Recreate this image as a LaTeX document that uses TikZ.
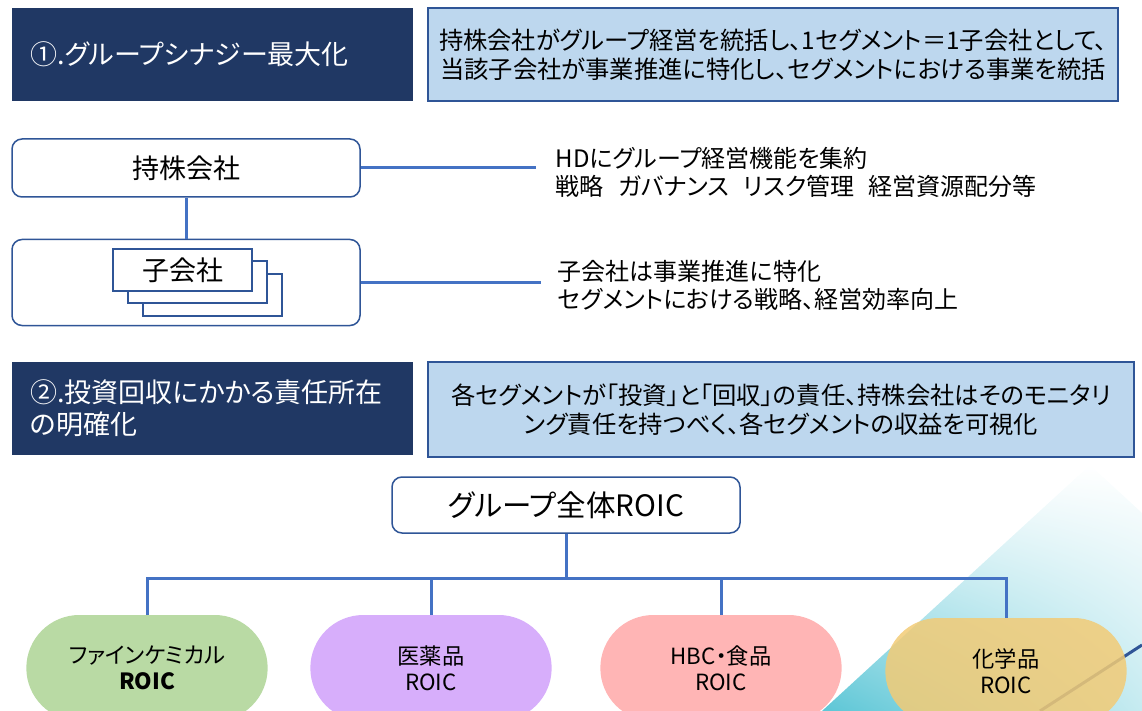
\documentclass[tikz,border=0pt]{standalone}
\usepackage{fontspec}
\setmainfont{Noto Sans CJK JP}[RawFeature={+palt}]
\usetikzlibrary{positioning,shapes.misc,shadings}
\definecolor{navy}{HTML}{203864}
\definecolor{paleblue}{HTML}{BDD7EE}
\definecolor{frameblue}{HTML}{2F5597}
\definecolor{lineblue}{HTML}{4472C4}
\definecolor{finegreen}{HTML}{B9DAA4}
\definecolor{medpurple}{HTML}{D7AEFB}
\definecolor{hbcpink}{HTML}{FFB5B5}
\definecolor{chemyellow}{HTML}{F2CB76}
\definecolor{decocyan}{HTML}{5CC6D6}
\newcommand{\gap}{\hspace{0.6em}}

\begin{document}
\begin{tikzpicture}[x=1pt, y=-1pt, node distance=14pt]
    \tikzstyle{headbox} = [rectangle, fill=navy, text=white, text width=365pt, inner xsep=18pt, minimum height=93pt, align=left, font=\fontsize{27pt}{32pt}\selectfont]
    \tikzstyle{notebox} = [rectangle, draw=frameblue, line width=2pt, fill=paleblue, minimum height=93pt, align=center, font=\fontsize{24.3pt}{28.5pt}\selectfont]
    \tikzstyle{orgbox} = [rectangle, draw=frameblue, line width=1.5pt, fill=white, rounded corners=10pt, minimum width=348pt, font=\fontsize{27pt}{32pt}\selectfont]
    \tikzstyle{stackbox} = [rectangle, draw=frameblue, line width=2pt, fill=white, minimum width=139pt, minimum height=42pt, font=\fontsize{27pt}{32pt}\selectfont]
    \tikzstyle{remark} = [align=left, inner sep=0pt, font=\fontsize{24pt}{28pt}\selectfont]
    \tikzstyle{pill} = [rounded rectangle, minimum width=248pt, minimum height=106pt, align=center, font=\fontsize{22.3pt}{26pt}\selectfont]
    \tikzstyle{line} = [draw, lineblue, line width=3pt]

    \useasboundingbox (0,0) rectangle (1142,711);
    \clip (0,0) rectangle (1142,711);

    % Backdrop
    \shade [upper left=white, upper right=white, lower left=decocyan, lower right=decocyan!35]
        (822,711) -- (1090,465) -- (1142,513) -- (1142,711) -- cycle;
    \draw [frameblue, line width=3pt] (1040,711) -- (1142,645);

    % Group synergy heading
    \node [headbox] (head1) at (212.5,54.5) {①.グループシナジー最大化};

    % Group synergy note
    \node [notebox, minimum width=690pt, right=14pt of head1] (note1) {持株会社がグループ経営を統括し、1セグメント＝1子会社として、\\当該子会社が事業推進に特化し、セグメントにおける事業を統括};

    % Holding company
    \node [orgbox, minimum height=58pt] (hold) at (186,168) {持株会社};

    % Subsidiary frame
    \node [orgbox, minimum height=86pt, below=41pt of hold] (sub) {};

    % Subsidiary stack
    \node [stackbox] (sub3) at (212.5,294.5) {};
    \node [stackbox] (sub2) at (197.5,282) {};
    \node [stackbox] (sub1) at (182.5,270) {子会社};

    % Holding company role
    \node [remark, right=195pt of hold, yshift=-4pt] (holdnote) {HDにグループ経営機能を集約\\戦略\gap ガバナンス\gap リスク管理\gap 経営資源配分等};

    % Subsidiary role
    \node [remark, right=197pt of sub, yshift=-3pt] (subnote) {子会社は事業推進に特化\\セグメントにおける戦略、経営効率向上};

    % Responsibility heading
    \node [headbox] (head2) at (212.5,408.5) {②.投資回収にかかる責任所在\\の明確化};

    % Responsibility note
    \node [notebox, minimum width=706pt, minimum height=95pt, right=14pt of head2, yshift=-1pt] (note2) {各セグメントが「投資」と「回収」の責任、持株会社はそのモニタリ\\ング責任を持つべく、各セグメントの収益を可視化};

    % Group ROIC
    \node [orgbox, minimum height=56pt, font=\fontsize{29.5pt}{34pt}\selectfont] (roic) at (566,505) {グループ全体ROIC};
    \coordinate (bus) at (566,578);

    % Segment ROIC
    \node [pill, fill=finegreen] (fine) at (147,668) {ファインケミカル\\\textbf{ROIC}};
    \node [pill, fill=medpurple] (pharma) at (431,668) {医薬品\\ROIC};
    \node [pill, fill=hbcpink] (food) at (721,668) {HBC・食品\\ROIC};
    \node [pill, fill=chemyellow, fill opacity=0.85, text opacity=1] (chem) at (1006,671) {化学品\\ROIC};

    % Lines
    \path [line] (hold) -- (sub);
    \path [line, shorten >=20pt] (hold.east) -- (hold.east -| holdnote.west);
    \path [line, shorten >=17pt] (sub.east) -- (sub.east -| subnote.west);
    \path [line] (roic) -- (bus);
    \path [line] (bus) -| (fine);
    \path [line] (bus) -| (pharma);
    \path [line] (bus) -| (food);
    \path [line] (bus) -| (chem);

\end{tikzpicture}
\end{document}
